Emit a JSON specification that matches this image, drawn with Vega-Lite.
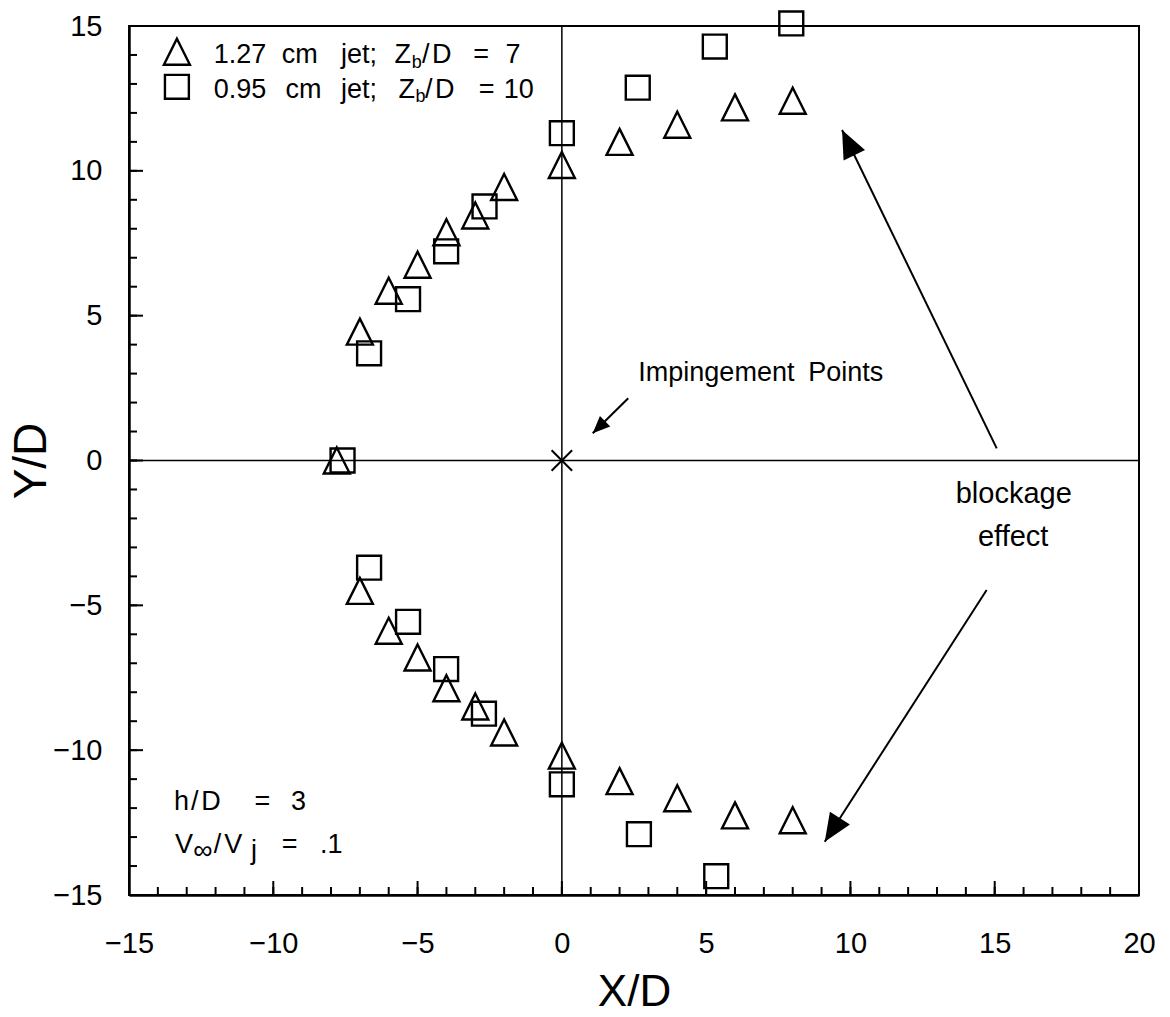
{
  "$schema": "https://vega.github.io/schema/vega-lite/v6.json",
  "width": 1010,
  "height": 869,
  "autosize": {"type": "none"},
  "padding": {"left": 129, "top": 26, "right": 31, "bottom": 122},
  "background": "white",
  "config": {
    "font": "Liberation Sans",
    "view": {"stroke": "black", "strokeWidth": 2},
    "axis": {"grid": false, "labelColor": "black", "titleColor": "black", "tickColor": "black", "domainColor": "black", "labelFontWeight": "normal", "titleFontWeight": "normal"}
  },
  "datasets": {
    "points": [
      {"series": "1.27 cm jet", "x": -7.8, "y": 0},
      {"series": "1.27 cm jet", "x": -7, "y": 4.45},
      {"series": "1.27 cm jet", "x": -6, "y": 5.86},
      {"series": "1.27 cm jet", "x": -5, "y": 6.76},
      {"series": "1.27 cm jet", "x": -4, "y": 7.88},
      {"series": "1.27 cm jet", "x": -3, "y": 8.46},
      {"series": "1.27 cm jet", "x": -2, "y": 9.44},
      {"series": "1.27 cm jet", "x": 0, "y": 10.2},
      {"series": "1.27 cm jet", "x": 2, "y": 11.0},
      {"series": "1.27 cm jet", "x": 4, "y": 11.59},
      {"series": "1.27 cm jet", "x": 6, "y": 12.19},
      {"series": "1.27 cm jet", "x": 8, "y": 12.42},
      {"series": "1.27 cm jet", "x": -7, "y": -4.5},
      {"series": "1.27 cm jet", "x": -6, "y": -5.88},
      {"series": "1.27 cm jet", "x": -5, "y": -6.8},
      {"series": "1.27 cm jet", "x": -4, "y": -7.86},
      {"series": "1.27 cm jet", "x": -3, "y": -8.49},
      {"series": "1.27 cm jet", "x": -2, "y": -9.39},
      {"series": "1.27 cm jet", "x": 0, "y": -10.19},
      {"series": "1.27 cm jet", "x": 2, "y": -11.07},
      {"series": "1.27 cm jet", "x": 4, "y": -11.66},
      {"series": "1.27 cm jet", "x": 6, "y": -12.25},
      {"series": "1.27 cm jet", "x": 8, "y": -12.42},
      {"series": "0.95 cm jet", "x": -7.6, "y": 0},
      {"series": "0.95 cm jet", "x": -6.68, "y": 3.7},
      {"series": "0.95 cm jet", "x": -5.33, "y": 5.57},
      {"series": "0.95 cm jet", "x": -4.01, "y": 7.22},
      {"series": "0.95 cm jet", "x": -2.68, "y": 8.77},
      {"series": "0.95 cm jet", "x": 0, "y": 11.3},
      {"series": "0.95 cm jet", "x": 2.63, "y": 12.87},
      {"series": "0.95 cm jet", "x": 5.3, "y": 14.29},
      {"series": "0.95 cm jet", "x": 7.95, "y": 15.09},
      {"series": "0.95 cm jet", "x": -6.68, "y": -3.7},
      {"series": "0.95 cm jet", "x": -5.33, "y": -5.57},
      {"series": "0.95 cm jet", "x": -4.01, "y": -7.2},
      {"series": "0.95 cm jet", "x": -2.7, "y": -8.74},
      {"series": "0.95 cm jet", "x": 0, "y": -11.18},
      {"series": "0.95 cm jet", "x": 2.67, "y": -12.9},
      {"series": "0.95 cm jet", "x": 5.35, "y": -14.35}
    ],
    "legend": [
      {"series": "1.27 cm jet", "x": -13.34, "y": 14.11},
      {"series": "0.95 cm jet", "x": -13.34, "y": 12.9}
    ],
    "xticks": [
      {"v": -15}, {"v": -14}, {"v": -13}, {"v": -12}, {"v": -11}, {"v": -10}, {"v": -9}, {"v": -8}, {"v": -7}, {"v": -6},
      {"v": -5}, {"v": -4}, {"v": -3}, {"v": -2}, {"v": -1}, {"v": 0}, {"v": 1}, {"v": 2}, {"v": 3}, {"v": 4},
      {"v": 5}, {"v": 6}, {"v": 7}, {"v": 8}, {"v": 9}, {"v": 10}, {"v": 11}, {"v": 12}, {"v": 13}, {"v": 14},
      {"v": 15}, {"v": 16}, {"v": 17}, {"v": 18}, {"v": 19}, {"v": 20}
    ],
    "yticks": [
      {"v": -15}, {"v": -14}, {"v": -13}, {"v": -12}, {"v": -11}, {"v": -10}, {"v": -9}, {"v": -8}, {"v": -7}, {"v": -6},
      {"v": -5}, {"v": -4}, {"v": -3}, {"v": -2}, {"v": -1}, {"v": 0}, {"v": 1}, {"v": 2}, {"v": 3}, {"v": 4},
      {"v": 5}, {"v": 6}, {"v": 7}, {"v": 8}, {"v": 9}, {"v": 10}, {"v": 11}, {"v": 12}, {"v": 13}, {"v": 14},
      {"v": 15}
    ],
    "notes": [
      {"role": "main", "text": "1.27", "x": -12.06, "y": 13.71},
      {"role": "main", "text": "cm", "x": -9.71, "y": 13.71},
      {"role": "main", "text": "jet;", "x": -7.65, "y": 13.71},
      {"role": "main", "text": "Z", "x": -5.8, "y": 13.71},
      {"role": "sub", "text": "b", "x": -5.2, "y": 13.54},
      {"role": "main", "text": "/", "x": -4.85, "y": 13.71},
      {"role": "main", "text": "D", "x": -4.5, "y": 13.71},
      {"role": "main", "text": "=", "x": -3.07, "y": 13.71},
      {"role": "main", "text": "7", "x": -1.95, "y": 13.71},
      {"role": "main", "text": "0.95", "x": -12.06, "y": 12.5},
      {"role": "main", "text": "cm", "x": -9.58, "y": 12.5},
      {"role": "main", "text": "jet;", "x": -7.65, "y": 12.5},
      {"role": "main", "text": "Z", "x": -5.66, "y": 12.5},
      {"role": "sub", "text": "b", "x": -5.07, "y": 12.39},
      {"role": "main", "text": "/", "x": -4.74, "y": 12.5},
      {"role": "main", "text": "D", "x": -4.4, "y": 12.5},
      {"role": "main", "text": "=", "x": -2.88, "y": 12.5},
      {"role": "main", "text": "10", "x": -2.01, "y": 12.5},
      {"role": "main", "text": "Impingement", "x": 2.65, "y": 2.75},
      {"role": "main", "text": "Points", "x": 8.54, "y": 2.75},
      {"role": "center", "text": "blockage", "x": 15.66, "y": -1.46},
      {"role": "center", "text": "effect", "x": 15.64, "y": -2.95},
      {"role": "main", "text": "h", "x": -13.44, "y": -12.06},
      {"role": "main", "text": "/", "x": -12.85, "y": -12.06},
      {"role": "main", "text": "D", "x": -12.5, "y": -12.06},
      {"role": "main", "text": "=", "x": -10.65, "y": -12.06},
      {"role": "main", "text": "3", "x": -9.39, "y": -12.06},
      {"role": "main", "text": "V", "x": -13.41, "y": -13.56},
      {"role": "main", "text": "∞", "x": -12.77, "y": -13.76},
      {"role": "main", "text": "/", "x": -12.06, "y": -13.56},
      {"role": "main", "text": "V", "x": -11.7, "y": -13.56},
      {"role": "main", "text": "j", "x": -10.77, "y": -13.77},
      {"role": "main", "text": "=", "x": -9.71, "y": -13.56},
      {"role": "main", "text": ".1", "x": -8.38, "y": -13.56}
    ],
    "arrows": [
      {"id": "impingement", "x": 2.3, "y": 2.15, "x2": 1.07, "y2": 0.94},
      {"id": "upper", "x": 15.07, "y": 0.42, "x2": 9.71, "y2": 11.41},
      {"id": "lower", "x": 14.72, "y": -4.47, "x2": 9.11, "y2": -13.16}
    ]
  },
  "layer": [
    {
      "data": {"name": "points"},
      "mark": {"type": "point", "filled": false, "color": "black", "strokeWidth": 2.4, "size": 676, "opacity": 1},
      "encoding": {
        "x": {"field": "x", "type": "quantitative", "scale": {"domain": [-15, 20], "nice": false, "zero": false},
          "axis": {"orient": "bottom", "values": [-15,-10,-5,0,5,10,15,20], "ticks": false, "domain": true, "domainWidth": 2.5, "labelFontSize": 29, "labelPadding": 34, "labelFlush": false, "labelOverlap": false, "title": "X/D", "titleFontSize": 44, "titlePadding": 12}},
        "y": {"field": "y", "type": "quantitative", "scale": {"domain": [-15, 15], "nice": false, "zero": false},
          "axis": {"orient": "left", "values": [-15,-10,-5,0,5,10,15], "ticks": false, "domain": true, "domainWidth": 2.5, "labelFontSize": 29, "labelPadding": 27, "labelOverlap": false, "title": "Y/D", "titleFontSize": 46, "titlePadding": -3}},
        "shape": {"field": "series", "type": "nominal",
          "scale": {"domain": ["1.27 cm jet", "0.95 cm jet"], "range": ["M0,-1L1,1L-1,1Z", "M-0.92,-0.92L0.92,-0.92L0.92,0.92L-0.92,0.92Z"]},
          "legend": null}
      }
    },
    {
      "data": {"values": [{"pos": 0}]},
      "mark": {"type": "rule", "color": "black", "strokeWidth": 1.5},
      "encoding": {
        "x": {"field": "pos", "type": "quantitative", "scale": {"domain": [-15, 20], "nice": false, "zero": false}, "axis": null}
      }
    },
    {
      "data": {"values": [{"pos": 0}]},
      "mark": {"type": "rule", "color": "black", "strokeWidth": 1.5},
      "encoding": {
        "y": {"field": "pos", "type": "quantitative", "scale": {"domain": [-15, 15], "nice": false, "zero": false}, "axis": null}
      }
    },
    {
      "data": {"name": "xticks"},
      "mark": {"type": "rule", "color": "black", "strokeWidth": 2},
      "encoding": {
        "x": {"field": "v", "type": "quantitative", "scale": {"domain": [-15, 20], "nice": false, "zero": false}, "axis": null},
        "y": {"datum": -15, "type": "quantitative", "scale": {"domain": [-15, 15], "nice": false, "zero": false}, "axis": null},
        "y2": {"datum": -14.724}
      }
    },
    {
      "data": {"name": "xticks"},
      "transform": [{"filter": "datum.v % 5 == 0"}],
      "mark": {"type": "rule", "color": "black", "strokeWidth": 2},
      "encoding": {
        "x": {"field": "v", "type": "quantitative", "scale": {"domain": [-15, 20], "nice": false, "zero": false}, "axis": null},
        "y": {"datum": -15, "type": "quantitative", "scale": {"domain": [-15, 15], "nice": false, "zero": false}, "axis": null},
        "y2": {"datum": -14.517}
      }
    },
    {
      "data": {"name": "yticks"},
      "mark": {"type": "rule", "color": "black", "strokeWidth": 2},
      "encoding": {
        "y": {"field": "v", "type": "quantitative", "scale": {"domain": [-15, 15], "nice": false, "zero": false}, "axis": null},
        "x": {"datum": -15, "type": "quantitative", "scale": {"domain": [-15, 20], "nice": false, "zero": false}, "axis": null},
        "x2": {"datum": -14.723}
      }
    },
    {
      "data": {"name": "yticks"},
      "transform": [{"filter": "datum.v % 5 == 0"}],
      "mark": {"type": "rule", "color": "black", "strokeWidth": 2},
      "encoding": {
        "y": {"field": "v", "type": "quantitative", "scale": {"domain": [-15, 15], "nice": false, "zero": false}, "axis": null},
        "x": {"datum": -15, "type": "quantitative", "scale": {"domain": [-15, 20], "nice": false, "zero": false}, "axis": null},
        "x2": {"datum": -14.515}
      }
    },
    {
      "data": {"values": [{"x": 0, "y": 0}]},
      "mark": {"type": "point", "shape": "M-1,-1L1,1M1,-1L-1,1", "size": 420, "filled": false, "color": "black", "strokeWidth": 2, "opacity": 1},
      "encoding": {
        "x": {"field": "x", "type": "quantitative", "scale": {"domain": [-15, 20], "nice": false, "zero": false}, "axis": null},
        "y": {"field": "y", "type": "quantitative", "scale": {"domain": [-15, 15], "nice": false, "zero": false}, "axis": null}
      }
    },
    {
      "data": {"name": "legend"},
      "mark": {"type": "point", "filled": false, "color": "black", "strokeWidth": 2.4, "size": 676, "opacity": 1},
      "encoding": {
        "x": {"field": "x", "type": "quantitative", "scale": {"domain": [-15, 20], "nice": false, "zero": false}, "axis": null},
        "y": {"field": "y", "type": "quantitative", "scale": {"domain": [-15, 15], "nice": false, "zero": false}, "axis": null},
        "shape": {"field": "series", "type": "nominal", "legend": null}
      }
    },
    {
      "data": {"name": "notes"},
      "transform": [{"filter": "datum.role == 'main'"}],
      "mark": {"type": "text", "align": "left", "baseline": "alphabetic", "fontSize": 27, "color": "black"},
      "encoding": {
        "x": {"field": "x", "type": "quantitative", "scale": {"domain": [-15, 20], "nice": false, "zero": false}, "axis": null},
        "y": {"field": "y", "type": "quantitative", "scale": {"domain": [-15, 15], "nice": false, "zero": false}, "axis": null},
        "text": {"field": "text", "type": "nominal"}
      }
    },
    {
      "data": {"name": "notes"},
      "transform": [{"filter": "datum.role == 'sub'"}],
      "mark": {"type": "text", "align": "left", "baseline": "alphabetic", "fontSize": 18, "color": "black"},
      "encoding": {
        "x": {"field": "x", "type": "quantitative", "scale": {"domain": [-15, 20], "nice": false, "zero": false}, "axis": null},
        "y": {"field": "y", "type": "quantitative", "scale": {"domain": [-15, 15], "nice": false, "zero": false}, "axis": null},
        "text": {"field": "text", "type": "nominal"}
      }
    },
    {
      "data": {"name": "notes"},
      "transform": [{"filter": "datum.role == 'center'"}],
      "mark": {"type": "text", "align": "center", "baseline": "alphabetic", "fontSize": 29, "color": "black"},
      "encoding": {
        "x": {"field": "x", "type": "quantitative", "scale": {"domain": [-15, 20], "nice": false, "zero": false}, "axis": null},
        "y": {"field": "y", "type": "quantitative", "scale": {"domain": [-15, 15], "nice": false, "zero": false}, "axis": null},
        "text": {"field": "text", "type": "nominal"}
      }
    },
    {
      "data": {"name": "arrows"},
      "mark": {"type": "rule", "color": "black", "strokeWidth": 2},
      "encoding": {
        "x": {"field": "x", "type": "quantitative", "scale": {"domain": [-15, 20], "nice": false, "zero": false}, "axis": null},
        "y": {"field": "y", "type": "quantitative", "scale": {"domain": [-15, 15], "nice": false, "zero": false}, "axis": null},
        "x2": {"field": "x2"},
        "y2": {"field": "y2"}
      }
    },
    {
      "data": {"name": "arrows"},
      "transform": [{"filter": "datum.id == 'impingement'"}],
      "mark": {"type": "point", "shape": "M0,0L0.85,2L-0.85,2Z", "size": 300, "filled": true, "color": "black", "opacity": 1, "angle": 225.5},
      "encoding": {
        "x": {"field": "x2", "type": "quantitative", "scale": {"domain": [-15, 20], "nice": false, "zero": false}, "axis": null},
        "y": {"field": "y2", "type": "quantitative", "scale": {"domain": [-15, 15], "nice": false, "zero": false}, "axis": null}
      }
    },
    {
      "data": {"name": "arrows"},
      "transform": [{"filter": "datum.id == 'upper'"}],
      "mark": {"type": "point", "shape": "M0,0L0.85,2L-0.85,2Z", "size": 784, "filled": true, "color": "black", "opacity": 1, "angle": 334.1},
      "encoding": {
        "x": {"field": "x2", "type": "quantitative", "scale": {"domain": [-15, 20], "nice": false, "zero": false}, "axis": null},
        "y": {"field": "y2", "type": "quantitative", "scale": {"domain": [-15, 15], "nice": false, "zero": false}, "axis": null}
      }
    },
    {
      "data": {"name": "arrows"},
      "transform": [{"filter": "datum.id == 'lower'"}],
      "mark": {"type": "point", "shape": "M0,0L0.85,2L-0.85,2Z", "size": 784, "filled": true, "color": "black", "opacity": 1, "angle": 212.8},
      "encoding": {
        "x": {"field": "x2", "type": "quantitative", "scale": {"domain": [-15, 20], "nice": false, "zero": false}, "axis": null},
        "y": {"field": "y2", "type": "quantitative", "scale": {"domain": [-15, 15], "nice": false, "zero": false}, "axis": null}
      }
    }
  ],
  "resolve": {"axis": {"x": "independent", "y": "independent"}}
}
